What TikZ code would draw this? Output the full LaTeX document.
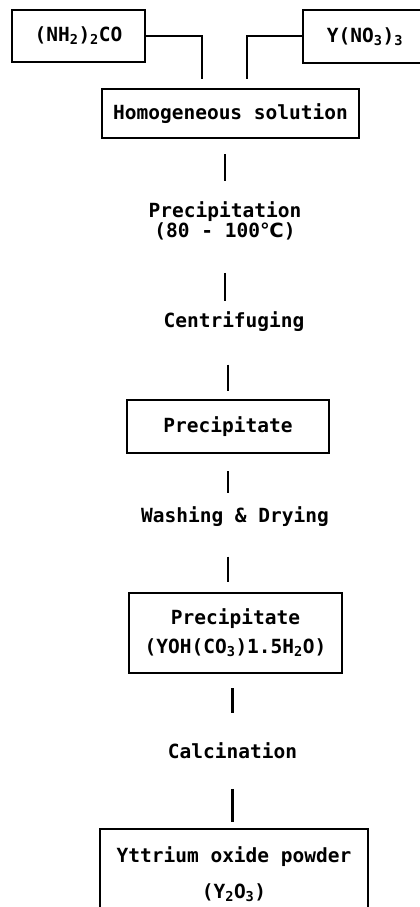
\documentclass[tikz,border=0pt]{standalone}
\usepackage{fontspec}
\setmonofont{DejaVu Sans Mono}
\newfontfamily\degfont{DejaVu Sans}
\usetikzlibrary{positioning, calc}

\begin{document}
\begin{tikzpicture}[x=1pt, y=-1pt,
    box/.style={draw, line width=2pt, align=center, inner sep=0pt,
      font=\fontsize{19.5}{20}\selectfont\ttfamily\bfseries},
    lbl/.style={align=center, inner sep=0pt,
      font=\fontsize{19.5}{20}\selectfont\ttfamily\bfseries},
    link/.style={line width=2.5pt},
    feed/.style={line width=2pt}]
  \useasboundingbox (0,0) rectangle (420,907);

  % starting materials
  \node[box, minimum width=133pt, minimum height=52pt] (urea) at (78.5,36) {(NH\textsubscript{2})\textsubscript{2}CO};
  \node[box, minimum width=124pt, minimum height=53pt] (nitrate) at (365,36.5) {Y(NO\textsubscript{3})\textsubscript{3}};
  \node[box, minimum width=257pt, minimum height=49pt] (hom) at (230.5,113.5) {Homogeneous solution};
  \coordinate (inl) at (202,79);
  \coordinate (inr) at (247,79);
  \draw[feed] (urea.east) -| (inl);
  \draw[feed] (nitrate.west) -| (inr);

  % process steps
  \node[lbl, anchor=base] (prec) at (225,237) {Precipitation\\(80 - 100{\degfont\bfseries ℃})};
  \node[lbl, anchor=base] (centr) at (234,327) {Centrifuging};
  \node[box, minimum width=202pt, minimum height=53pt] (precbox) at (228,426.5) {Precipitate};
  \node[lbl, anchor=base] (wash) at (235,522) {Washing \& Drying};
  \node[box, minimum width=213pt, minimum height=80pt] (yoh) at (235.5,633) {Precipitate\\[9pt](YOH(CO\textsubscript{3})1.5H\textsubscript{2}O)};
  \node[lbl, anchor=base] (calc) at (232.5,758) {Calcination};
  \node[box, anchor=north, minimum width=268pt, inner ysep=18pt] (oxide) at (234,828) {Yttrium oxide powder\\[16pt](Y\textsubscript{2}O\textsubscript{3})};

  % links between steps
  \draw[link, shorten <=15pt, shorten >=19.7pt] (prec.north |- hom.south) -- (prec.north);
  \draw[link, shorten <=33pt, shorten >=10pt] (prec.south) -- (prec.south |- centr.north);
  \draw[link, shorten <=33.5pt, shorten >=8pt] (precbox.north |- centr.south) -- (precbox.north);
  \draw[link, shorten <=17pt, shorten >=12.7pt] (precbox.south) -- (precbox.south |- wash.north);
  \draw[link, shorten <=30.5pt, shorten >=10pt] (wash.south -| precbox) -- (yoh.north -| precbox);
  \draw[link, shorten <=14pt, shorten >=28.7pt] (calc.north |- yoh.south) -- (calc.north);
  \draw[link, shorten <=30.5pt, shorten >=6pt] (calc.south) -- (calc.south |- oxide.north);
\end{tikzpicture}
\end{document}
